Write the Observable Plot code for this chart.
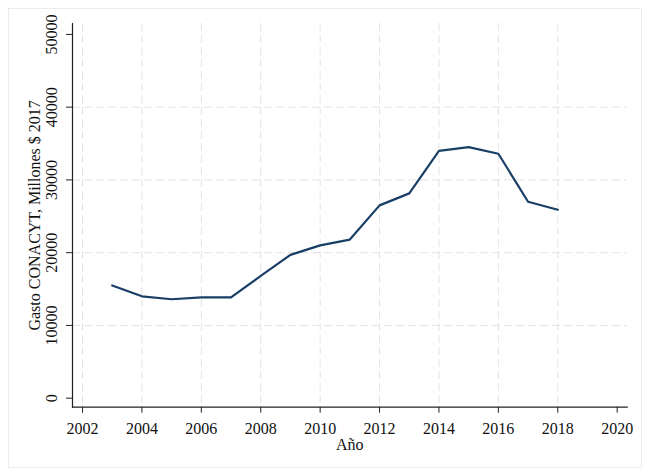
<!DOCTYPE html>
<html>
<head>
<meta charset="utf-8">
<script src="https://cdn.jsdelivr.net/npm/d3@7"></script>
<script src="https://cdn.jsdelivr.net/npm/@observablehq/plot@0.6"></script>
<style>
  html, body { margin: 0; padding: 0; background: #fff; }
  #wrap { position: relative; width: 650px; height: 476px; }
  #border { position: absolute; left: 8px; top: 8px; width: 632px; height: 458px; border: 1px solid #ececec; pointer-events: none; }
</style>
</head>
<body>
<div id="wrap"><div id="border"></div></div>
<script>
const years = [2003, 2004, 2005, 2006, 2007, 2008, 2009, 2010, 2011, 2012, 2013, 2014, 2015, 2016, 2017, 2018];
const gasto = [15500, 14000, 13600, 13850, 13850, 16800, 19700, 21000, 21800, 26500, 28150, 34000, 34500, 33600, 27000, 25900];
const xTicks = [2002, 2004, 2006, 2008, 2010, 2012, 2014, 2016, 2018, 2020];
const xGrid = [2002, 2004, 2006, 2008, 2010, 2012, 2014, 2016, 2018];
const yTicks = [0, 10000, 20000, 30000, 40000, 50000];
const yGrid = [10000, 20000, 30000, 40000];

const data = years.map((y, i) => ({year: y, value: gasto[i]}));

const font = "'Liberation Serif', 'Times New Roman', serif";
const chart = Plot.plot({
  width: 650,
  height: 476,
  marginLeft: 72,
  marginRight: 23.3,
  marginTop: 23,
  marginBottom: 69.3,
  style: {fontFamily: font, fontSize: "16px", color: "#000", background: "transparent"},
  x: {domain: [2001.663, 2020.337]},
  y: {domain: [-1240, 51500]},
  marks: [
    Plot.gridX(xGrid, {stroke: "#e3e3e3", strokeOpacity: 1, strokeDasharray: "8,4", strokeWidth: 1}),
    Plot.gridY(yGrid, {stroke: "#e3e3e3", strokeOpacity: 1, strokeDasharray: "8,4", strokeWidth: 1}),
    Plot.frame({anchor: "left", stroke: "#222", strokeWidth: 1.2}),
    Plot.frame({anchor: "bottom", stroke: "#222", strokeWidth: 1.2}),
    Plot.axisX(xTicks, {tickSize: 6, tickPadding: 9, tickFormat: d => String(d), stroke: "#222", fill: "#111", label: "Año", labelAnchor: "center", labelArrow: "none", labelOffset: 43, fontSize: 16}),
    Plot.axisY(yTicks, {tickSize: 6, tickRotate: -90, tickPadding: 9.5, tickFormat: d => String(d), stroke: "#222", fill: "#111", label: "Gasto CONACYT, Millones $ 2017", labelAnchor: "center", labelArrow: "none", labelOffset: 44, fontSize: 16}),
    Plot.line(data, {x: "year", y: "value", stroke: "#1a3f66", strokeWidth: 2.2, strokeLinejoin: "round"})
  ]
});
document.getElementById("wrap").appendChild(chart);
chart.style.position = "absolute";
chart.style.left = "0";
chart.style.top = "0";
</script>
</body>
</html>
